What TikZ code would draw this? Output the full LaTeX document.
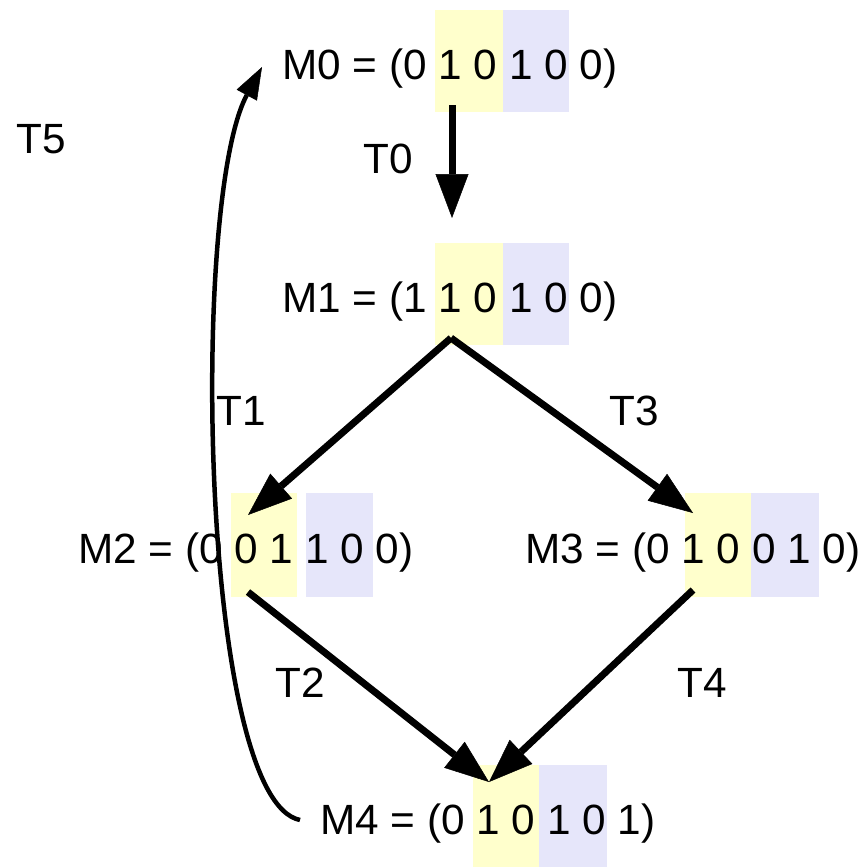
\documentclass[tikz,border=0pt]{standalone}
\usepackage{fontspec}
\setmainfont{Liberation Sans}
\usetikzlibrary{arrows.meta}
\definecolor{cellY}{RGB}{255,255,204}
\definecolor{cellB}{RGB}{230,230,250}
\tikzset{
  marking/.style={anchor=base west,inner sep=0pt,font=\fontsize{42.3}{50}\selectfont},
  tlabel/.style={anchor=base west,inner sep=0pt,font=\fontsize{42.3}{50}\selectfont},
  firing/.style={line width=7pt,-{Triangle[length=44pt,width=33pt,line width=0.5pt]}},
  backarc/.style={line width=4.5pt,-{Triangle[length=32pt,width=23pt,line width=0.5pt]}},
}
\begin{document}
\begin{tikzpicture}[x=1pt,y=-1pt]
\useasboundingbox (0,0) rectangle (867,867);
% highlighted cells
\fill[cellY] (435,10) rectangle (503,112);
\fill[cellB] (503,10) rectangle (569,112);
\fill[cellY] (435,243) rectangle (503,345);
\fill[cellB] (503,243) rectangle (569,345);
\fill[cellY] (231,493) rectangle (297,597);
\fill[cellB] (306,493) rectangle (373,597);
\fill[cellY] (685,493) rectangle (751,597);
\fill[cellB] (751,493) rectangle (819,597);
\fill[cellY] (473,765) rectangle (539,867);
\fill[cellB] (539,765) rectangle (607,867);
% markings
\node[marking] (m0) at (282,79) {M0 = (0 1 0 1 0 0)};
\node[marking] (m1) at (282,312) {M1 = (1 1 0 1 0 0)};
\node[marking] (m2) at (78,563) {M2 = (0 0 1 1 0 0)};
\node[marking] (m3) at (525,563) {M3 = (0 1 0 0 1 0)};
\node[marking] (m4) at (320,834) {M4 = (0 1 0 1 0 1)};
% transition labels
\node[tlabel] (t5) at (16,153) {T5};
\node[tlabel] (t0) at (363,173) {T0};
\node[tlabel] (t1) at (216,425) {T1};
\node[tlabel] (t3) at (609,425) {T3};
\node[tlabel] (t2) at (275,697) {T2};
\node[tlabel] (t4) at (677,697) {T4};
% connector ends
\coordinate (m0out) at (452,105);
\coordinate (m1in) at (452,218);
\coordinate (m1out) at (451,338);
\coordinate (m2in) at (248,515);
\coordinate (m3in) at (693,513);
\coordinate (m2out) at (248,592);
\coordinate (m3out) at (693,590);
\coordinate (m4in) at (489,782);
\coordinate (m4out) at (300,820);
\coordinate (m0in) at (262,67);
% connectors
\draw[firing] (m0out) -- (m1in);
\draw[firing] (m1out) -- (m2in);
\draw[firing] (m1out) -- (m3in);
\draw[firing] (m2out) -- (m4in);
\draw[firing] (m3out) -- (m4in);
\draw[backarc] (m4out) .. controls (200,800) and (190,200) .. (m0in);
\end{tikzpicture}
\end{document}
